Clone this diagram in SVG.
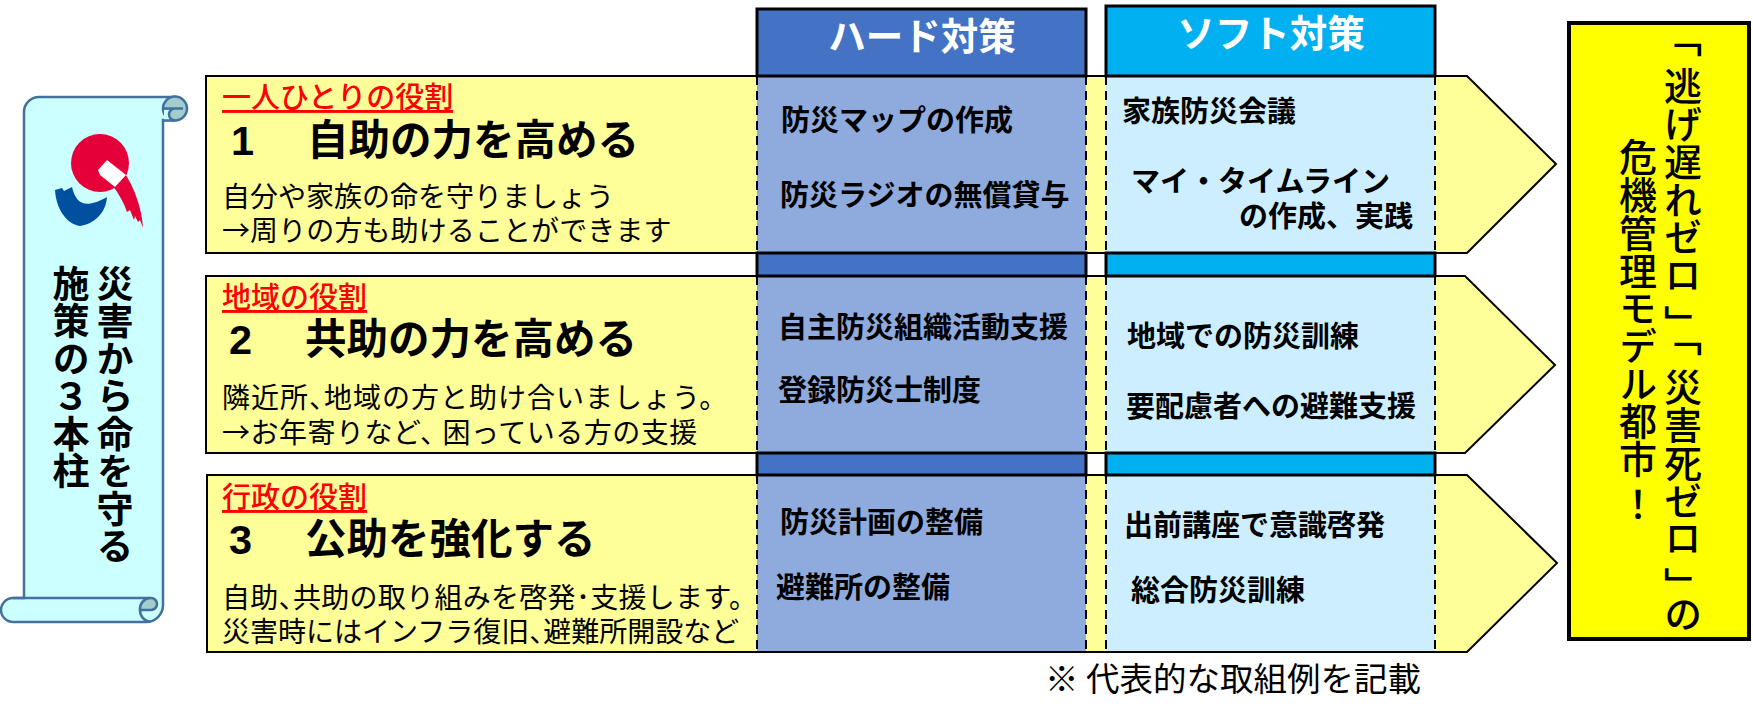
<svg xmlns="http://www.w3.org/2000/svg" width="1753" height="720" viewBox="0 0 1753 720">
<style>
text{font-family:"Noto Sans CJK JP","Noto Sans",sans-serif;fill:#000;text-spacing-trim:space-all}
.row{fill:#ffff99;stroke:#000;stroke-width:2}
.hb{fill:#8faadc}.sb{fill:#cceeff}
.hh{fill:#4472c4;stroke:#000;stroke-width:3}
.sh{fill:#00b0f0;stroke:#000;stroke-width:3}
.dash{stroke:#000;stroke-width:2;stroke-dasharray:9 6;fill:none}
.role{font-size:29px;font-weight:500;fill:#ff0000;text-decoration:underline}
.ttl{font-size:41.500px;font-weight:700}
.num{font-family:"Liberation Sans",sans-serif;font-weight:700}
.body{font-size:28px;font-weight:400}
.it{font-size:29px;font-weight:700}
.hd{font-size:37.500px;font-weight:700;fill:#fff}
.v{writing-mode:vertical-rl;font-weight:700}
.g{writing-mode:vertical-rl;font-weight:500;font-size:38px;letter-spacing:-0.300px}
.sc{fill:#ccffff;stroke:#41719c;stroke-width:2.500}
.sd{fill:#a3cccc;stroke:#41719c;stroke-width:2.500}
.sl{fill:none;stroke:#41719c;stroke-width:2.500}
</style>
<g id="rows">
<g id="row1"><path class="row" d="M206 76H1467L1556 164L1467 253H206Z"/><rect class="hb" x="757" y="77" width="329" height="175"/><rect class="sb" x="1106" y="77" width="329" height="175"/></g>
<g id="row2"><path class="row" d="M206 276H1465L1555 365L1465 453H206Z"/><rect class="hb" x="757" y="277" width="329" height="175"/><rect class="sb" x="1106" y="277" width="329" height="175"/></g>
<g id="row3"><path class="row" d="M207 475H1467L1557 563L1467 652H207Z"/><rect class="hb" x="757" y="476" width="329" height="175"/><rect class="sb" x="1106" y="476" width="329" height="175"/></g>
</g>
<g id="band-hard">
<rect class="hh" x="757" y="9" width="329" height="67"/>
<rect class="hh" x="757" y="253" width="329" height="23"/>
<rect class="hh" x="757" y="453" width="329" height="22"/>
</g>
<g id="band-soft">
<rect class="sh" x="1106" y="6" width="329" height="70"/>
<rect class="sh" x="1106" y="253" width="329" height="23"/>
<rect class="sh" x="1106" y="453" width="329" height="22"/>
</g>
<g id="connectors">
<path class="dash" d="M757 76V253M1086 76V253M1106 76V253M1435 76V253M757 276V453M1086 276V453M1106 276V453M1435 276V453M757 475V652M1086 475V652M1106 475V652M1435 475V652"/>
</g>
<g id="headers">
<text class="hd" x="922" y="50" text-anchor="middle">ハード対策</text>
<text class="hd" x="1271" y="47" text-anchor="middle">ソフト対策</text>
</g>
<g id="scroll">
<path class="sc" d="M24 598V112A15 15 0 0 1 39 97H175V120H163V605A17 17 0 0 1 146 622H13A12 12 0 0 1 13 598Z"/>
<circle class="sd" cx="175" cy="108.500" r="12"/>
<rect x="164" y="110" width="6" height="10" fill="#ccffff"/>
<path class="sl" d="M163 108.500H183M175 108.500A6 6 0 0 0 175 120.500H164"/>
<path class="sl" d="M13 598H150"/>
<path class="sd" d="M140 610A11 11 0 0 1 150 598H151A6 6 0 0 1 151 610Z"/>
<path class="sl" d="M150 622A12 12 0 0 1 140 610"/>
</g>
<g id="logo">
<circle cx="100" cy="163" r="29" fill="#e60039"/>
<path d="M124 172C134 187 142 208 143 228L140 220L138 222L135 216L134 220L130 210L127 212C124 203 119 194 113 186Z" fill="#e60039"/>
<path d="M98 170L107 160L126 175L115 187L100 175Z" fill="#fff"/>
<path d="M55 190L62 188L64 191L72 187C76 203 84 210 107 197C106 213 94 224 80 226C66 224 56 208 55 190Z" fill="#00509f"/>
</g>
<text id="scroll-t1" class="v" x="115" y="265" font-size="37" letter-spacing="0.500">災害から命を守る</text>
<text id="scroll-t2" class="v" x="71" y="265" font-size="37" letter-spacing="0.500">施策の３本柱</text>
<g id="row1-text">
<text class="role" x="222" y="108">一人ひとりの役割</text>
<text class="ttl" y="155"><tspan class="num" x="231">1</tspan><tspan x="307">自助の力を高める</tspan></text>
<text class="body" x="222" y="207">自分や家族の命を守りましょう</text>
<text class="body" x="222" y="241" letter-spacing="0.100">→周りの方も助けることができます</text>
<text class="it" x="781" y="131">防災マップの作成</text>
<text class="it" x="780" y="206">防災ラジオの無償貸与</text>
<text class="it" x="1122" y="122">家族防災会議</text>
<text class="it" x="1131" y="192">マイ・タイムライン</text>
<text class="it" x="1239" y="227">の作成、実践</text>
</g>
<g id="row2-text">
<text class="role" x="222" y="308">地域の役割</text>
<text class="ttl" y="354"><tspan class="num" x="229">2</tspan><tspan x="305">共助の力を高める</tspan></text>
<text class="body" x="222" y="408" letter-spacing="1">隣近所、<tspan dx="-14">地域の方と助け合いましょう。</tspan></text>
<text class="body" x="222" y="443" letter-spacing="0.500">→お年寄りなど、<tspan dx="-6">困っている方の支援</tspan></text>
<text class="it" x="778" y="338">自主防災組織活動支援</text>
<text class="it" x="778" y="401">登録防災士制度</text>
<text class="it" x="1127" y="347">地域での防災訓練</text>
<text class="it" x="1126" y="417">要配慮者への避難支援</text>
</g>
<g id="row3-text">
<text class="role" x="222" y="508">行政の役割</text>
<text class="ttl" y="554"><tspan class="num" x="229">3</tspan><tspan x="305">公助を強化する</tspan></text>
<text class="body" x="222" y="608" letter-spacing="0.300">自助、<tspan dx="-14">共助の取り組みを啓発･支援します。</tspan></text>
<text class="body" x="222" y="642">災害時にはインフラ復旧、<tspan dx="-14">避難所開設など</tspan></text>
<text class="it" x="780" y="533">防災計画の整備</text>
<text class="it" x="776" y="598">避難所の整備</text>
<text class="it" x="1124" y="536">出前講座で意識啓発</text>
<text class="it" x="1131" y="601">総合防災訓練</text>
</g>
<g id="goal">
<rect x="1569" y="23" width="180" height="616" fill="#ffff00" stroke="#000" stroke-width="4"/>
<text class="g" x="1683" y="29"><tspan dy="-10">「</tspan><tspan dy="10">逃げ遅れゼロ</tspan><tspan dy="12">」</tspan><tspan dy="-25">「</tspan><tspan dy="13">災害死ゼロ</tspan><tspan dy="10">」</tspan><tspan dy="-10">の</tspan></text>
<text class="g" x="1638" y="138">危機管理モデル都市<tspan dy="8">！</tspan></text>
</g>
<text id="note" x="1045" y="691" font-size="33.500" font-weight="400">※ 代表的な取組例を記載</text>
</svg>
